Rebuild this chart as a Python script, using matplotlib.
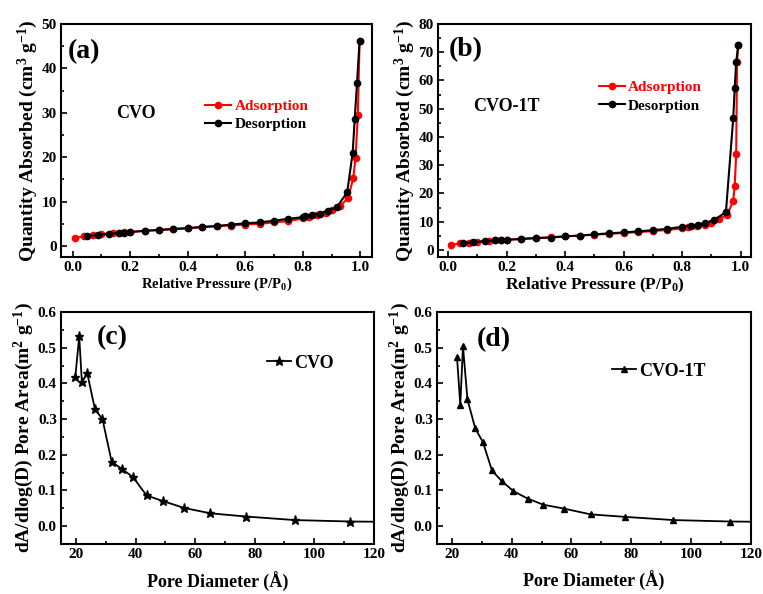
import matplotlib
matplotlib.use("Agg")
import matplotlib.pyplot as plt
from matplotlib.ticker import MultipleLocator, AutoMinorLocator, FormatStrFormatter

plt.rcParams['font.family'] = ['Liberation Serif', 'DejaVu Serif']
plt.rcParams['font.weight'] = 'bold'
plt.rcParams['mathtext.fontset'] = 'custom'
plt.rcParams['mathtext.rm'] = 'Liberation Serif:bold'
plt.rcParams['mathtext.it'] = 'Liberation Serif:bold'
plt.rcParams['mathtext.bf'] = 'Liberation Serif:bold'

# ---- (a) CVO isotherm ----
a_ads_x = [0.01, 0.04, 0.07, 0.10, 0.14, 0.16, 0.18, 0.20, 0.25, 0.30, 0.35, 0.40, 0.45, 0.50,
           0.55, 0.60, 0.65, 0.70, 0.75, 0.80, 0.82, 0.85, 0.88, 0.90, 0.93, 0.957, 0.975, 0.983, 0.991, 0.997]
a_ads_y = [1.8, 2.2, 2.5, 2.7, 2.9, 3.0, 3.1, 3.2, 3.4, 3.6, 3.8, 4.0, 4.2, 4.4,
           4.6, 4.8, 5.0, 5.3, 5.6, 6.2, 6.5, 6.9, 7.5, 8.0, 9.0, 10.8, 15.2, 19.9, 29.6, 46.2]
a_des_x = [0.997, 0.988, 0.980, 0.973, 0.954, 0.919, 0.886, 0.859, 0.832, 0.806, 0.80, 0.75, 0.70,
           0.65, 0.60, 0.55, 0.50, 0.45, 0.40, 0.35, 0.30, 0.25, 0.20, 0.18, 0.16, 0.125, 0.09, 0.05]
a_des_y = [46.2, 36.6, 28.5, 21.0, 12.1, 8.8, 7.9, 7.3, 7.0, 6.7, 6.5, 6.1, 5.7,
           5.3, 5.1, 4.8, 4.5, 4.3, 4.0, 3.8, 3.6, 3.4, 3.1, 3.0, 2.9, 2.7, 2.5, 2.2]

# ---- (b) CVO-1T isotherm ----
b_ads_x = [0.01, 0.04, 0.07, 0.10, 0.14, 0.16, 0.18, 0.20, 0.25, 0.30, 0.35, 0.40, 0.45, 0.50,
           0.55, 0.60, 0.65, 0.70, 0.75, 0.80, 0.82, 0.85, 0.88, 0.90, 0.925, 0.955, 0.975, 0.980, 0.985, 0.988, 0.992]
b_ads_y = [1.8, 2.3, 2.6, 2.9, 3.2, 3.4, 3.5, 3.6, 3.9, 4.2, 4.5, 4.8, 5.1, 5.4,
           5.7, 6.0, 6.3, 6.7, 7.1, 7.6, 8.0, 8.5, 9.0, 9.6, 10.8, 12.5, 17.5, 22.7, 33.8, 66.5, 72.5]
b_des_x = [0.992, 0.985, 0.980, 0.975, 0.950, 0.910, 0.880, 0.855, 0.830, 0.80, 0.75, 0.70, 0.65,
           0.60, 0.55, 0.50, 0.45, 0.40, 0.35, 0.30, 0.25, 0.20, 0.18, 0.16, 0.125, 0.085, 0.05]
b_des_y = [72.5, 66.5, 57.3, 46.7, 13.5, 10.5, 9.6, 9.0, 8.6, 8.2, 7.5, 7.0, 6.6,
           6.2, 5.9, 5.5, 5.1, 4.8, 4.4, 4.2, 3.9, 3.6, 3.5, 3.4, 3.1, 2.8, 2.4]

# ---- (c) CVO pore area ----
c_d = [19.8, 21.1, 22.0, 23.8, 26.4, 28.9, 32.0, 35.3, 39.2, 43.7, 49.3, 56.3, 65.1, 77.0, 93.4, 112.1, 125.0]
c_a = [0.419, 0.532, 0.403, 0.428, 0.327, 0.300, 0.180, 0.161, 0.137, 0.086, 0.070, 0.051, 0.036, 0.027, 0.017, 0.013, 0.012]

# ---- (d) CVO-1T pore area ----
d_d = [21.7, 22.8, 23.7, 25.2, 27.8, 30.4, 33.4, 36.7, 40.6, 45.4, 50.6, 57.6, 66.4, 77.9, 94.1, 113.0, 125.0]
d_a = [0.474, 0.340, 0.504, 0.355, 0.274, 0.235, 0.156, 0.126, 0.098, 0.077, 0.060, 0.049, 0.033, 0.026, 0.017, 0.013, 0.012]

fig = plt.figure(figsize=(7.63, 5.94), dpi=100)
axA = fig.add_axes([0.080, 0.5673, 0.4075, 0.3923])
axB = fig.add_axes([0.574, 0.5673, 0.410, 0.3923])
axC = fig.add_axes([0.080, 0.0842, 0.410, 0.3905])
axD = fig.add_axes([0.5727, 0.0842, 0.4113, 0.3905])

def style(ax):
    for s in ax.spines.values():
        s.set_linewidth(1.5)
    ax.tick_params(which='both', direction='in', top=False, right=False, width=1.2)
    ax.tick_params(which='major', length=4, labelsize=11, pad=3)
    ax.tick_params(which='minor', length=2.5)
    ax.xaxis.set_minor_locator(AutoMinorLocator(2))
    ax.yaxis.set_minor_locator(AutoMinorLocator(2))
    for lab in ax.get_xticklabels() + ax.get_yticklabels():
        lab.set_fontweight('bold')

def legend(ax, anchor, fs, hl, colors=None):
    leg = ax.legend(loc='upper left', bbox_to_anchor=anchor, frameon=False, fontsize=fs,
                    handlelength=hl, handletextpad=0.2, labelspacing=0.3, borderpad=0)
    for i, t in enumerate(leg.get_texts()):
        t.set_fontweight('bold')
        if colors:
            t.set_color(colors[i])
    return leg

# (a)
axA.plot(a_ads_x, a_ads_y, color='red', marker='o', ms=4.5, lw=1.5, label='Adsorption')
axA.plot(a_des_x, a_des_y, color='black', marker='o', ms=4.5, lw=1.5, label='Desorption')
axA.set_xlim(-0.04, 1.04)
axA.set_ylim(-2.5, 50)
axA.xaxis.set_major_locator(MultipleLocator(0.2))
axA.yaxis.set_major_locator(MultipleLocator(10))
axA.xaxis.set_major_formatter(FormatStrFormatter('%.1f'))
axA.set_xlabel('Relative Pressure (P/P$_0$)', fontsize=10.5, fontweight='bold', labelpad=1)
axA.set_ylabel('Quantity Absorbed (cm$^3$ g$^{-1}$)', fontsize=14, fontweight='bold', labelpad=1)
axA.text(0.022, 0.88, '(a)', transform=axA.transAxes, fontsize=20, fontweight='bold', va='center')
axA.text(0.177, 0.618, 'CVO', transform=axA.transAxes, fontsize=13, fontweight='bold', va='center')
legend(axA, (0.44, 0.71), 11, 1.7, ['red', 'black'])
style(axA)

# (b)
axB.plot(b_ads_x, b_ads_y, color='red', marker='o', ms=4.5, lw=1.5, label='Adsorption')
axB.plot(b_des_x, b_des_y, color='black', marker='o', ms=4.5, lw=1.5, label='Desorption')
axB.set_xlim(-0.035, 1.035)
axB.set_ylim(-2.5, 80)
axB.xaxis.set_major_locator(MultipleLocator(0.2))
axB.yaxis.set_major_locator(MultipleLocator(10))
axB.xaxis.set_major_formatter(FormatStrFormatter('%.1f'))
axB.set_xlabel('Relative Pressure (P/P$_0$)', fontsize=12.5, fontweight='bold', labelpad=1)
axB.set_ylabel('Quantity Absorbed (cm$^3$ g$^{-1}$)', fontsize=14, fontweight='bold', labelpad=1)
axB.text(0.036, 0.888, '(b)', transform=axB.transAxes, fontsize=20, fontweight='bold', va='center')
axB.text(0.112, 0.648, 'CVO-1T', transform=axB.transAxes, fontsize=13, fontweight='bold', va='center')
legend(axB, (0.49, 0.79), 11, 1.7, ['red', 'black'])
style(axB)

# (c)
axC.plot(c_d, c_a, color='black', marker='*', ms=6.5, lw=1.3,
         markevery=list(range(len(c_d) - 1)), label='CVO')
axC.set_xlim(15, 120)
axC.set_ylim(-0.05, 0.6)
axC.xaxis.set_major_locator(MultipleLocator(20))
axC.yaxis.set_major_locator(MultipleLocator(0.1))
axC.yaxis.set_major_formatter(FormatStrFormatter('%.1f'))
axC.set_xlabel('Pore Diameter (Å)', fontsize=13, fontweight='bold', labelpad=8)
axC.set_ylabel('dA/dlog(D) Pore Area(m$^2$ g$^{-1}$)', fontsize=14, fontweight='bold', labelpad=1)
axC.text(0.113, 0.888, '(c)', transform=axC.transAxes, fontsize=20, fontweight='bold', va='center')
legend(axC, (0.63, 0.855), 13, 1.3)
style(axC)

# (d)
axD.plot(d_d, d_a, color='black', marker='^', ms=5, lw=1.3,
         markevery=list(range(len(d_d) - 1)), label='CVO-1T')
axD.set_xlim(15, 120)
axD.set_ylim(-0.05, 0.6)
axD.xaxis.set_major_locator(MultipleLocator(20))
axD.yaxis.set_major_locator(MultipleLocator(0.1))
axD.yaxis.set_major_formatter(FormatStrFormatter('%.1f'))
axD.set_xlabel('Pore Diameter (Å)', fontsize=13, fontweight='bold', labelpad=7)
axD.set_ylabel('dA/dlog(D) Pore Area(m$^2$ g$^{-1}$)', fontsize=14, fontweight='bold', labelpad=1)
axD.text(0.127, 0.879, '(d)', transform=axD.transAxes, fontsize=20, fontweight='bold', va='center')
legend(axD, (0.53, 0.82), 13, 1.3)
style(axD)

fig.savefig('out.png', dpi=100)
